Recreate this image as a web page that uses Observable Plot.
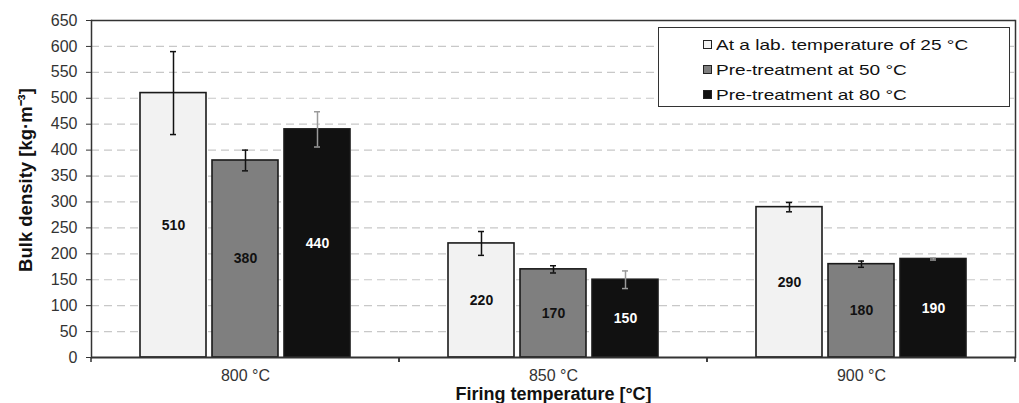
<!DOCTYPE html>
<html>
<head>
<meta charset="utf-8">
<script src="https://cdn.jsdelivr.net/npm/d3@7"></script>
<script src="https://cdn.jsdelivr.net/npm/@observablehq/plot@0.6"></script>
<style>
  body { margin: 0; background: #fff; font-family: "Liberation Sans", Arial, sans-serif; }
  #chart { position: relative; width: 1019px; height: 403px; }
  .legend { position: absolute; left: 658px; top: 27px; width: 352px; height: 80px;
            border: 1.5px solid #333; background: #fff; box-sizing: border-box; }
  .item { position: absolute; left: 44px; height: 20px; display: flex; align-items: center; }
  .sw { width: 7px; height: 7px; border: 1px solid #222; margin-right: 4px; flex: none; }
  .lab { font-size: 15px; color: #111; white-space: nowrap; display: inline-block;
         transform: scaleX(1.27); transform-origin: left center; }
</style>
</head>
<body>
<div id="chart"></div>
<script>
// Firing temperatures (groups) and drying treatments (series)
const temps = ["800 °C", "850 °C", "900 °C"];
const series = ["At a lab. temperature of 25 °C", "Pre-treatment at 50 °C", "Pre-treatment at 80 °C"];
const fills = ["#f2f2f2", "#7f7f7f", "#111111"];

// Bulk density [kg·m-3] per firing temperature, with standard deviations
const density25 = [510, 220, 290];
const error25 = [80, 23, 9];
const density50 = [380, 170, 180];
const error50 = [20, 7, 6];
const density80 = [440, 150, 190];
const error80 = [34, 17, 2];

const yTicks = [0, 50, 100, 150, 200, 250, 300, 350, 400, 450, 500, 550, 600, 650];

const values = [density25, density50, density80];
const errors = [error25, error50, error80];
const rows = [];
temps.forEach((t, i) => series.forEach((s, j) => {
  rows.push({temp: t, series: s, value: values[j][i], err: errors[j][i], dark: j === 2});
}));
const onLight = rows.filter(d => !d.dark);
const onDark = rows.filter(d => d.dark);

// short category separators below the axis at each group edge
const groupEdges = (index, {x, y}) => {
  const [a, b] = x.range();
  const y0 = y(0);
  const g = document.createElementNS("http://www.w3.org/2000/svg", "path");
  g.setAttribute("d", `M${a},${y0}v5M${b},${y0}v5`);
  g.setAttribute("stroke", "#333");
  g.setAttribute("stroke-width", "1.5");
  return g;
};

const chart = Plot.plot({
  width: 1019,
  height: 403,
  marginLeft: 91,
  marginRight: 4,
  marginTop: 20,
  marginBottom: 46,
  style: {fontFamily: "'Liberation Sans', Arial, sans-serif", fontSize: "16px", color: "#333", background: "#fff"},
  fx: {domain: temps, padding: 0, label: null},
  x: {domain: series, paddingInner: 0.083, paddingOuter: 0.68, axis: null},
  y: {domain: [0, 650], axis: null},
  color: {domain: series, range: fills},
  marks: [
    Plot.gridY(yTicks.filter(t => t > 0 && t < 650), {stroke: "#c8c8c8", strokeOpacity: 1, strokeWidth: 1.2, strokeDasharray: "8,5"}),
    Plot.barY(rows, {fx: "temp", x: "series", y: "value", fill: "series", stroke: "#1a1a1a", strokeWidth: 1.6}),
    Plot.ruleX(onLight, {fx: "temp", x: "series", y1: d => d.value - d.err, y2: d => d.value + d.err, stroke: "#111", strokeWidth: 1.5}),
    Plot.tickY(onLight, {fx: "temp", x: "series", y: d => d.value - d.err, stroke: "#111", strokeWidth: 1.5, insetLeft: 30, insetRight: 30}),
    Plot.tickY(onLight, {fx: "temp", x: "series", y: d => d.value + d.err, stroke: "#111", strokeWidth: 1.5, insetLeft: 30, insetRight: 30}),
    Plot.ruleX(onDark, {fx: "temp", x: "series", y1: d => d.value - d.err, y2: d => d.value + d.err, stroke: "#9a9a9a", strokeWidth: 1.5}),
    Plot.tickY(onDark, {fx: "temp", x: "series", y: d => d.value - d.err, stroke: "#9a9a9a", strokeWidth: 1.5, insetLeft: 30, insetRight: 30}),
    Plot.tickY(onDark, {fx: "temp", x: "series", y: d => d.value + d.err, stroke: "#9a9a9a", strokeWidth: 1.5, insetLeft: 30, insetRight: 30}),
    Plot.text(onLight, {fx: "temp", x: "series", y: d => d.value / 2, text: "value", fill: "#111", fontSize: 14, fontWeight: "bold"}),
    Plot.text(onDark, {fx: "temp", x: "series", y: d => d.value / 2, text: "value", fill: "#fff", fontSize: 14, fontWeight: "bold"}),
    Plot.ruleY([650], {stroke: "#333", strokeWidth: 1.5}),
    Plot.ruleY([0], {stroke: "#333", strokeWidth: 2}),
    Plot.frame({anchor: "left", facetAnchor: "left", stroke: "#333", strokeWidth: 1.5}),
    Plot.frame({anchor: "right", facetAnchor: "right", stroke: "#333", strokeWidth: 1.5}),
    groupEdges,
    Plot.axisY(yTicks, {tickSize: 5, tickPadding: 9, fontSize: 16, label: null, fill: "#333", stroke: "#333"}),
    Plot.axisFx({anchor: "bottom", tickSize: 0, tickPadding: 12, fontSize: 16, label: null, fill: "#333"}),
    Plot.text(["Bulk density [kg·m⁻³]"], {frameAnchor: "left", rotate: -90, dx: -65, dy: -9, textAnchor: "middle",
      lineAnchor: "middle", fontSize: 18.5, fontWeight: "bold", fill: "#111", facetAnchor: "left"}),
    Plot.text([temps[1]], {fx: d => d, frameAnchor: "bottom", text: () => "Firing temperature [°C]", dy: 37,
      textAnchor: "middle", lineAnchor: "middle", fontSize: 18, fontWeight: "bold", fill: "#111"})
  ]
});

const root = document.getElementById("chart");
root.appendChild(chart);

// legend box in the upper right of the plot area
const legend = document.createElement("div");
legend.className = "legend";
series.forEach((s, j) => {
  const item = document.createElement("div");
  item.className = "item";
  item.style.top = (6 + j * 25) + "px";
  const sw = document.createElement("span");
  sw.className = "sw";
  sw.style.background = fills[j];
  const lab = document.createElement("span");
  lab.className = "lab";
  lab.textContent = s;
  item.appendChild(sw);
  item.appendChild(lab);
  legend.appendChild(item);
});
root.appendChild(legend);
</script>
</body>
</html>
